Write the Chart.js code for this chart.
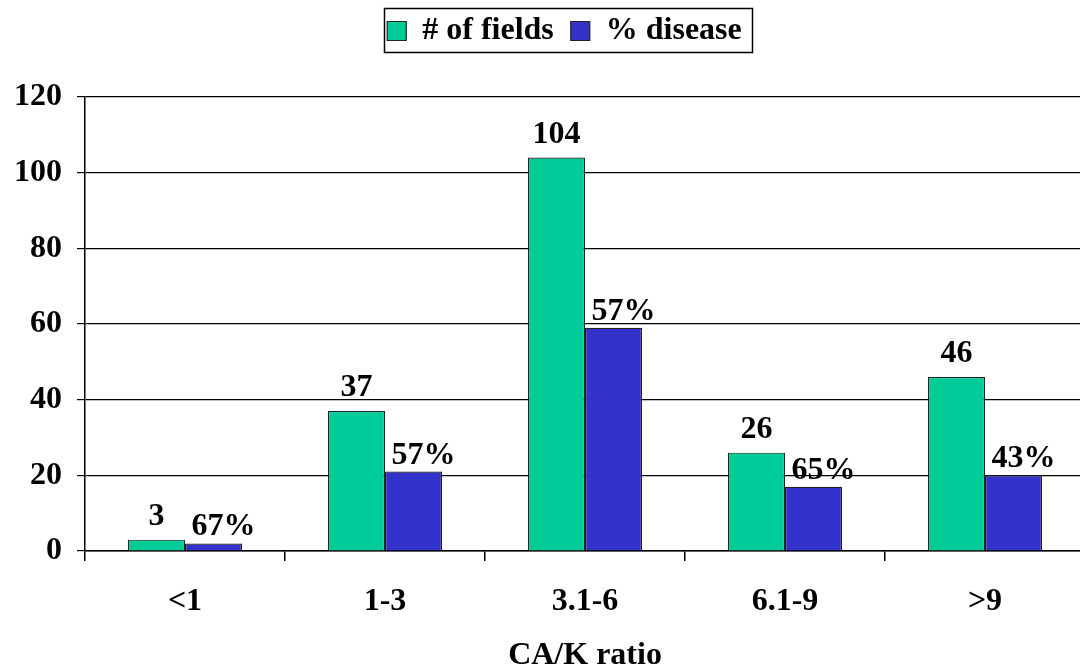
<!DOCTYPE html>
<html>
<head>
<meta charset="utf-8">
<script src="https://cdn.jsdelivr.net/npm/chart.js@4"></script>
<style>
    html, body { margin: 0; padding: 0; background: #fff; overflow: hidden; }
    #wrap { width: 1090px; height: 670px; }
</style>
</head>
<body>
<div id="wrap"><canvas id="caChart"></canvas></div>
<script>
const categories = ["<1", "1-3", "3.1-6", "6.1-9", ">9"];
const fieldCounts = [3, 37, 104, 26, 46];
const diseaseBars = [2, 21, 59, 17, 20];
const diseaseLabels = ["67%", "57%", "57%", "65%", "43%"];
const yTicks = [0, 20, 40, 60, 80, 100, 120];

const serif = "'Liberation Serif', 'Times New Roman', serif";
const bold32 = { family: serif, size: 32, weight: "bold" };

// value labels above the bars, box round the legend, extra space under legend
const labelPlugin = {
    id: "barLabels",
    beforeInit(chart) {
        const lg = chart.legend;
        if (lg) {
            const fit = lg.fit;
            lg.fit = function () {
                fit.call(this);
                this.height += 34;
            };
            const draw = lg.draw;
            lg.draw = function () {
                const ctx = this.ctx;
                ctx.save();
                ctx.translate(22, -6);
                draw.call(this);
                ctx.restore();
            };
        }
    },
    afterDatasetsDraw(chart) {
        const ctx = chart.ctx;
        ctx.save();
        ctx.font = "bold 32px " + serif;
        ctx.fillStyle = "#000";
        ctx.textAlign = "center";
        ctx.textBaseline = "alphabetic";
        chart.getDatasetMeta(0).data.forEach((bar, i) => {
            ctx.fillText(String(fieldCounts[i]), bar.x, bar.y - 15);
        });
        chart.getDatasetMeta(1).data.forEach((bar, i) => {
            ctx.fillText(diseaseLabels[i], bar.x + 10, bar.y - 8);
        });
        ctx.restore();
    },
    afterDraw(chart) {
        const ctx = chart.ctx;
        ctx.save();
        ctx.strokeStyle = "#000";
        ctx.lineWidth = 1.5;
        ctx.strokeRect(384.5, 8.5, 368, 44);
        ctx.restore();
    }
};

new Chart(document.getElementById("caChart").getContext("2d"), {
    type: "bar",
    data: {
        labels: categories,
        datasets: [{
            label: "# of fields",
            data: fieldCounts,
            backgroundColor: "#00CC99",
            borderColor: "#222",
            borderWidth: 1.2,
            categoryPercentage: 0.57,
            barPercentage: 1.0
        }, {
            label: "% disease",
            data: diseaseBars,
            backgroundColor: "#3333CC",
            borderColor: "#222",
            borderWidth: 1.2,
            categoryPercentage: 0.57,
            barPercentage: 1.0
        }]
    },
    options: {
        responsive: true,
        maintainAspectRatio: false,
        animation: false,
        layout: { padding: { left: 0, right: 5, top: 4, bottom: 0 } },
        plugins: {
            legend: {
                display: true,
                position: "top",
                labels: {
                    color: "#000",
                    font: bold32,
                    boxWidth: 19,
                    boxHeight: 19,
                    padding: 17
                }
            },
            tooltip: { enabled: false }
        },
        scales: {
            x: {
                afterFit(axis) { axis.height = 119; },
                grid: {
                    offset: true,
                    drawOnChartArea: false,
                    drawTicks: true,
                    tickLength: 10,
                    color: "#000",
                    lineWidth: 1.5
                },
                border: { color: "#000", width: 1.5 },
                ticks: {
                    color: "#000",
                    font: bold32,
                    padding: 22
                },
                title: {
                    display: true,
                    text: "CA/K ratio",
                    color: "#000",
                    font: bold32,
                    padding: { top: 20, bottom: -5 }
                }
            },
            y: {
                min: 0,
                max: 120,
                afterFit(axis) { axis.width = 85; },
                afterBuildTicks(axis) {
                    axis.ticks = yTicks.map((v) => ({ value: v }));
                },
                grid: {
                    color: "#000",
                    lineWidth: 1.2,
                    tickLength: 8
                },
                border: { color: "#000", width: 1.5 },
                ticks: {
                    color: "#000",
                    font: bold32,
                    padding: 15
                }
            }
        }
    },
    plugins: [labelPlugin]
});
</script>
</body>
</html>
